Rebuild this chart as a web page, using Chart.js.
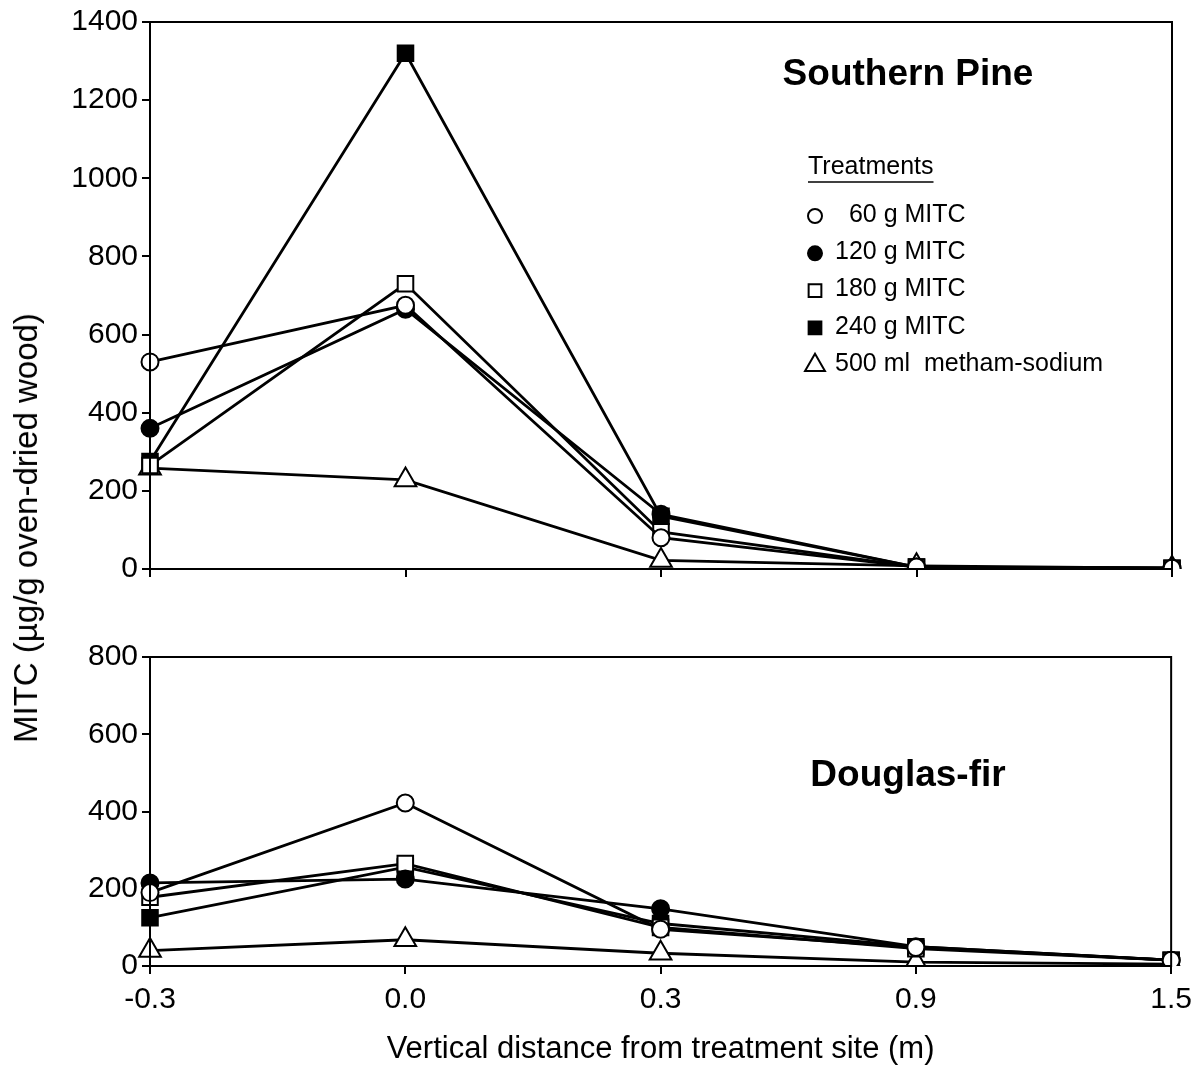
<!DOCTYPE html>
<html>
<head>
<meta charset="utf-8">
<script src="https://cdn.jsdelivr.net/npm/chart.js@4/dist/chart.umd.min.js"></script>
<style>
  body { margin: 0; background: #fff; width: 1200px; height: 1080px; overflow: hidden; position: relative;
         font-family: "Liberation Sans", Arial, sans-serif; }
  #topChart { position: absolute; left: 0; top: 0; }
  #bottomChart { position: absolute; left: 0; top: 600px; }
  #ytitle { position: absolute; left: 26px; top: 528px; transform: translate(-50%, -50%) rotate(-90deg);
            white-space: nowrap; font-size: 33px; color: #000; }
</style>
</head>
<body>
<canvas id="topChart" width="1200" height="600"></canvas>
<canvas id="bottomChart" width="1200" height="480"></canvas>
<div id="ytitle">MITC (µg/g oven-dried wood)</div>
<script>
// distancias (m)
const distancias = ['-0.3', '0.0', '0.3', '0.9', '1.5'];
const tratamentos = ['  60 g MITC', '120 g MITC', '180 g MITC', '240 g MITC', '500 ml  metham-sodium'];

// Southern Pine
const pine60 = [530, 675, 80, 5, 2];
const pine120 = [360, 665, 140, 5, 2];
const pine180 = [265, 730, 95, 5, 2];
const pine240 = [275, 1320, 135, 5, 2];
const pineMS = [258, 228, 22, 8, 2];

// Douglas-fir
const fir60 = [190, 422, 95, 48, 15];
const fir120 = [215, 225, 148, 50, 15];
const fir180 = [178, 265, 100, 45, 15];
const fir240 = [125, 256, 110, 50, 15];
const firMS = [40, 68, 33, 10, 5];

const pineTicks = [0, 200, 400, 600, 800, 1000, 1200, 1400];
const firTicks = [0, 200, 400, 600, 800];

const estilos = [
  { pointStyle: 'circle', fill: '#fff', r: 8.5 },
  { pointStyle: 'circle', fill: '#000', r: 8.5 },
  { pointStyle: 'rect', fill: '#fff', r: 11 },
  { pointStyle: 'rect', fill: '#000', r: 11 },
  { pointStyle: 'triangle', fill: '#fff', r: 12.5 }
];

const fonte = '"Liberation Sans", Arial, sans-serif';

function montarDatasets(series) {
  return series.map((dados, i) => ({
    label: tratamentos[i],
    data: dados,
    borderColor: '#000',
    borderWidth: 2.8,
    pointStyle: estilos[i].pointStyle,
    pointRadius: estilos[i].r,
    pointBackgroundColor: estilos[i].fill,
    pointBorderColor: '#000',
    pointBorderWidth: 2,
    tension: 0
  }));
}

// moldura + titulo do painel (+ legenda no painel de cima)
const molduraPlugin = {
  id: 'moldura',
  afterDraw(chart) {
    const { ctx, chartArea } = chart;
    const opts = chart.options.plugins.moldura;
    ctx.save();
    ctx.strokeStyle = '#000';
    ctx.lineWidth = 2;
    ctx.strokeRect(chartArea.left, chartArea.top, chartArea.right - chartArea.left, chartArea.bottom - chartArea.top);

    ctx.fillStyle = '#000';
    ctx.font = 'bold 37px ' + fonte;
    ctx.textAlign = 'center';
    ctx.textBaseline = 'middle';
    ctx.fillText(opts.titulo, opts.tx, opts.ty);

    if (opts.legenda) {
      ctx.font = '25px ' + fonte;
      ctx.textAlign = 'left';
      ctx.fillText('Treatments', 808, 167);
      const w = ctx.measureText('Treatments').width;
      ctx.lineWidth = 1.5;
      ctx.beginPath();
      ctx.moveTo(808, 182);
      ctx.lineTo(808 + w, 182);
      ctx.stroke();
      tratamentos.forEach((t, i) => {
        const y = 215 + i * 37.3;
        ctx.fillStyle = estilos[i].fill;
        ctx.strokeStyle = '#000';
        ctx.lineWidth = 2;
        const r = estilos[i].pointStyle === 'triangle' ? 11.5 : (estilos[i].pointStyle === 'rect' ? 9 : 7);
        Chart.helpers.drawPoint(ctx, { pointStyle: estilos[i].pointStyle, radius: r, rotation: 0, borderWidth: 2 }, 815, y + 1);
        ctx.fillStyle = '#000';
        ctx.fillText(t, 835, y);
      });
    }
    ctx.restore();
  }
};

function criarPainel(id, series, yMax, mostrarX, opts) {
  const ctx = document.getElementById(id).getContext('2d');
  return new Chart(ctx, {
    type: 'line',
    data: { labels: distancias, datasets: montarDatasets(series) },
    options: {
      responsive: false,
      animation: false,
      layout: { padding: { left: 0, right: 28, top: opts.padTop, bottom: 0 } },
      scales: {
        x: {
          type: 'category',
          offset: false,
          grid: { drawOnChartArea: false, drawTicks: true, tickLength: 8, color: '#000', lineWidth: 2 },
          border: { color: '#000', width: 2 },
          ticks: { display: mostrarX, color: '#000', font: { size: 30, family: fonte }, padding: 8, maxRotation: 0, autoSkip: false },
          title: {
            display: mostrarX,
            text: 'Vertical distance from treatment site (m)',
            color: '#000',
            font: { size: 31, family: fonte },
            padding: { top: 0, bottom: 12 }
          },
          afterFit: s => { s.height = opts.xAltura; }
        },
        y: {
          min: 0,
          max: yMax,
          grid: { drawOnChartArea: false, drawTicks: true, tickLength: 8, color: '#000', lineWidth: 2 },
          border: { color: '#000', width: 2 },
          afterBuildTicks: s => { s.ticks = opts.ticks.map(v => ({ value: v })); },
          ticks: { color: '#000', font: { size: 30, family: fonte }, padding: 4, callback: v => String(v) },
          afterFit: s => { s.width = 150; }
        }
      },
      plugins: {
        legend: { display: false },
        tooltip: { enabled: false },
        moldura: opts
      }
    },
    plugins: [molduraPlugin]
  });
}

window.onload = () => {
  criarPainel('topChart', [pine60, pine120, pine180, pine240, pineMS], 1400, false,
    { padTop: 18, xAltura: 31, ticks: pineTicks, titulo: 'Southern Pine', tx: 908, ty: 75, legenda: true });
  criarPainel('bottomChart', [fir60, fir120, fir180, fir240, firMS], 800, true,
    { padTop: 57, xAltura: 114, ticks: firTicks, titulo: 'Douglas-fir', tx: 908, ty: 176, legenda: false });
};
</script>
</body>
</html>
